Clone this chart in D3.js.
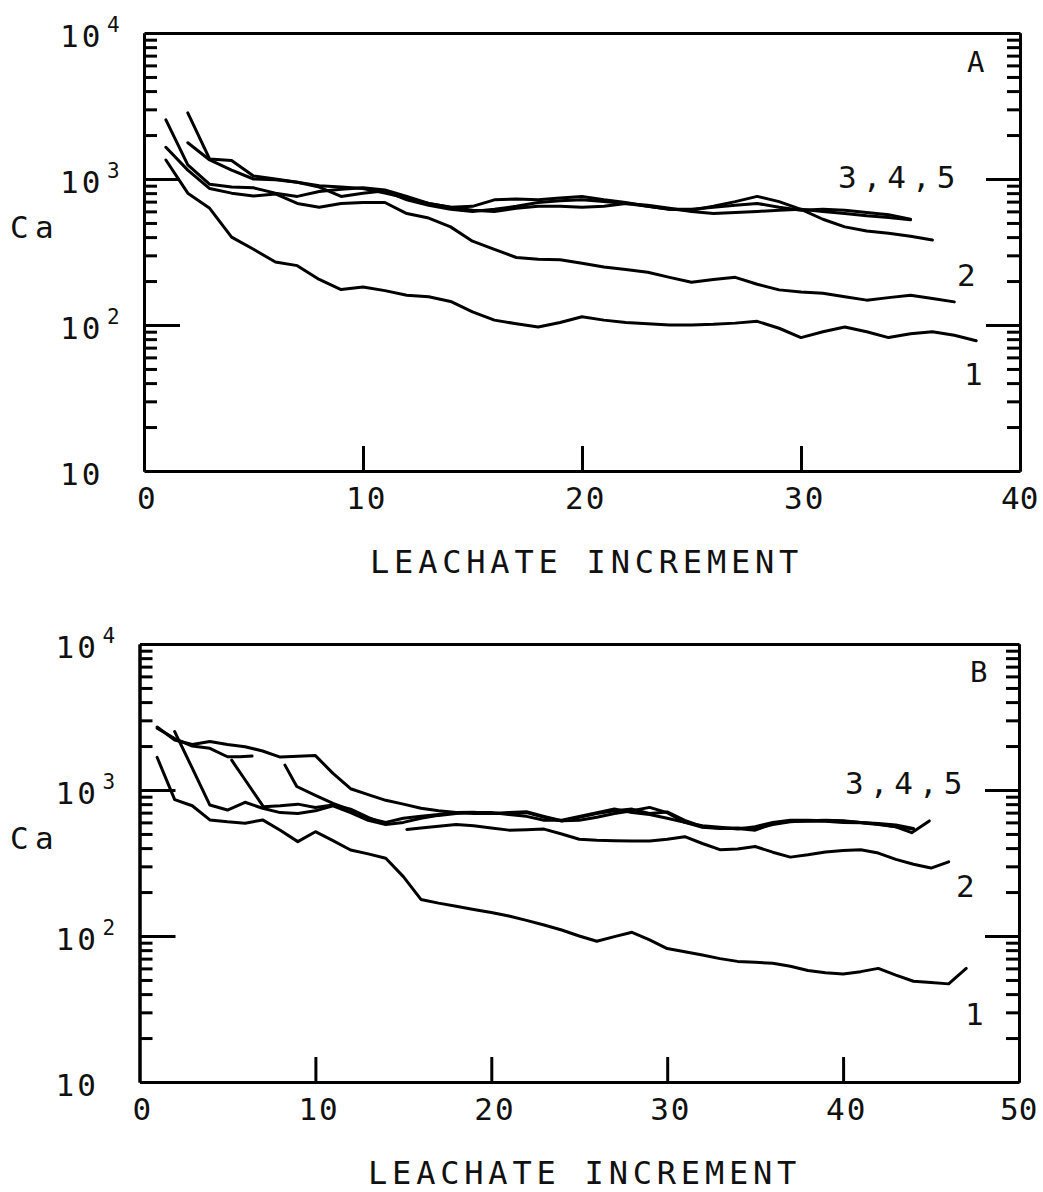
<!DOCTYPE html>
<html><head><meta charset="utf-8">
<script src="https://cdn.jsdelivr.net/npm/d3@7"></script>
<style>
body{margin:0;background:#fff}
text{font-family:"DejaVu Sans Mono",monospace;fill:#111}
</style>
</head><body>
<svg id="c" width="1043" height="1192"></svg>
<script>
// ---------- data ----------
const xTicksA = [0, 10, 20, 30, 40];
const xTicksB = [0, 10, 20, 30, 40, 50];
const yTickExps = [1, 2, 3, 4];
const seriesLabels = ["1", "2", "3,4,5"];
const panelLetters = ["A", "B"];
const xTitle = "LEACHATE INCREMENT";
const yTitleMain = "C";
const yTitleSub = "a";

// Panel A: Ca values at leachate increments start..end
const a1Start = 1;
const a1 = [1350,800,630,400,330,270,255,205,175,182,172,160,156,145,123,108,102,97,104,114,108,104,102,100,100,101,103,106,95,82,90,97,90,82,87,90,85,78];
const a2Start = 1;
const a2 = [1650,1150,860,800,765,790,680,640,680,690,690,580,540,470,375,330,290,282,280,265,250,240,230,212,196,205,212,190,174,168,165,156,148,154,160,152,144];
const a3Start = 1;
const a3 = [2540,1250,920,880,870,800,760,820,850,870,840,760,680,640,610,600,630,650,650,640,650,680,660,630,600,580,590,600,610,620,600,580,560,545,525];
const a4Start = 2;
const a4 = [2840,1370,1340,1050,1000,950,900,880,860,800,740,680,640,650,720,730,720,740,760,720,690,650,620,610,650,700,760,700,620,530,470,440,425,405,382];
const a5Start = 2;
const a5 = [1770,1350,1150,1000,990,950,880,760,800,830,720,660,620,600,620,650,690,710,720,700,680,650,620,620,640,660,680,640,610,620,610,590,570,530];

// Panel B: Ca values at leachate increments start..end
const b1Start = 1;
const b1 = [1675,860,780,624,605,592,624,530,443,518,450,388,365,341,255,178,168,160,152,145,137,128,119,110,100,92,99,106,94,82,78,74,70,67,66,65,62,58,56,55,57,60,54,49,48,47,60];
// Panel B: [increment, Ca] pairs (segments start between increments)
const b2 = [[15.2,537],[16,550],[17,565],[18,580],[19,570],[20,550],[21,531],[22,535],[23,540],[24,500],[25,460],[26,452],[27,450],[28,447],[29,447],[30,460],[31,479],[32,430],[33,390],[34,395],[35,410],[36,375],[37,347],[38,360],[39,376],[40,385],[41,390],[42,370],[43,335],[44,310],[45,292],[46,322]];
const b3 = [[1,2700],[2,2200],[3,2050],[4,2150],[5,2050],[6,1980],[7,1850],[8,1680],[9,1700],[10,1720],[11,1300],[12,1020],[13,930],[14,850],[15,800],[16,750],[17,720],[18,700],[19,690],[20,690],[21,690],[22,700],[23,650],[24,614],[25,650],[26,690],[27,720],[28,740],[29,690],[30,708],[31,620],[32,560],[33,550],[34,545],[35,531],[36,590],[37,610],[38,614],[39,610],[40,600],[41,596],[42,580],[43,560],[44,540]];
const b3b = [[1,2650],[2,2250],[3,2000],[4,1930],[5,1690],[5.7,1690],[6.4,1710]];
const b4 = [[2,2510],[3,1410],[4,789],[5,729],[6,824],[7,750],[8,700],[9,690],[10,720],[11,780],[12,700],[13,620],[14,580],[15,600],[16,640],[17,670],[18,690],[19,700],[20,700],[21,680],[22,660],[23,620],[24,620],[25,660],[26,700],[27,740],[28,700],[29,680],[30,640],[31,600],[32,570],[33,555],[34,540],[35,560],[36,600],[37,620],[38,620],[39,615],[40,610],[41,600],[42,585],[43,560],[43.9,510],[44.9,614]];
const b4b = [[5.24,1600],[6,1175],[7.04,769],[8,780],[9,800],[10,760],[11,790],[12,740],[13,650],[13.7,600]];
const b5 = [[8.27,1480],[8.94,1057],[10,920],[11,810],[12,730],[13,640],[14,600],[15,640],[16,660],[17,680],[18,700],[19,705],[20,690],[21,700],[22,710],[23,660],[24,615],[25,620],[26,650],[27,690],[28,720],[29,760],[30,700],[31,600],[32,555],[33,545],[34,550],[35,540],[36,580],[37,605],[38,615],[39,620],[40,615],[41,600],[42,590],[43,575],[44,545]];

// ---------- helpers ----------
const toPairs = (start, vals) => vals.map((v, i) => [start + i, v]);

const svg = d3.select("#c");

const panels = [
  { left: 144, right: 1020, top: 33, bottom: 471, xTicks: xTicksA, letter: panelLetters[0],
    series: [toPairs(a1Start, a1), toPairs(a2Start, a2), toPairs(a3Start, a3), toPairs(a4Start, a4), toPairs(a5Start, a5)],
    lab: { s345: [838, 188], s2: [957, 286], s1: [964, 385], letter: [967, 72] },
    titleX: 370 },
  { left: 139.5, right: 1019, top: 644, bottom: 1082, xTicks: xTicksB, letter: panelLetters[1],
    series: [toPairs(b1Start, b1), b2, b3, b3b, b4, b4b, b5],
    lab: { s345: [845, 794], s2: [956, 897], s1: [965, 1025], letter: [970, 682] },
    titleX: 368 }
];

panels.forEach(p => {
  const xMax = p.xTicks[p.xTicks.length - 1];
  const x = d3.scaleLinear().domain([0, xMax]).range([p.left, p.right]);
  const y = d3.scaleLog().domain([Math.pow(10, yTickExps[0]), Math.pow(10, yTickExps[yTickExps.length - 1])]).range([p.bottom, p.top]);

  const minor = [];
  for (let e = yTickExps[0]; e < yTickExps[yTickExps.length - 1]; e++)
    for (let k = 2; k <= 9; k++) minor.push(k * Math.pow(10, e));
  const major = yTickExps.slice(1, -1).map(e => Math.pow(10, e));
  const innerX = p.xTicks.slice(1, -1);

  const g = svg.append("g");
  const styleAxis = sel => {
    sel.selectAll("path.domain").attr("stroke", "#000").attr("stroke-width", 3);
    sel.selectAll(".tick line").attr("stroke", "#000").attr("stroke-width", 3);
    sel.selectAll(".tick text").remove();
  };

  // left axis (ticks pointing inward)
  g.append("g").attr("transform", `translate(${p.left},0)`)
    .call(d3.axisRight(y).tickValues(minor).tickSize(13).tickSizeOuter(0).tickFormat(""))
    .call(styleAxis);
  g.append("g").attr("transform", `translate(${p.left},0)`)
    .call(d3.axisRight(y).tickValues(major).tickSize(36).tickSizeOuter(0).tickFormat(""))
    .call(styleAxis);
  // right axis
  g.append("g").attr("transform", `translate(${p.right},0)`)
    .call(d3.axisLeft(y).tickValues(minor).tickSize(13).tickSizeOuter(0).tickFormat(""))
    .call(styleAxis);
  g.append("g").attr("transform", `translate(${p.right},0)`)
    .call(d3.axisLeft(y).tickValues(major).tickSize(34).tickSizeOuter(0).tickFormat(""))
    .call(styleAxis);
  // bottom axis
  g.append("g").attr("transform", `translate(0,${p.bottom})`)
    .call(d3.axisTop(x).tickValues(innerX).tickSize(25).tickSizeOuter(0).tickFormat(""))
    .call(styleAxis);
  // top axis
  g.append("g").attr("transform", `translate(0,${p.top})`)
    .call(d3.axisBottom(x).tickValues([]).tickSizeOuter(0))
    .call(styleAxis);

  // x tick labels (last one kept inside the page)
  const lastX = p.xTicks.length - 1;
  g.selectAll("text.xl").data(p.xTicks).join("text")
    .attr("class", "xl")
    .attr("x", (d, i) => i === lastX ? x(d) - 19 : x(d) - 17)
    .attr("y", p.bottom + 38)
    .attr("font-size", 31)
    .attr("letter-spacing", (d, i) => i === lastX ? 0 : 2)
    .attr("text-anchor", "start")
    .attr("dx", d => (String(d).length === 1 ? 10 : 0))
    .text(d => d);

  // y tick labels 10^n
  yTickExps.forEach(e => {
    const yy = y(Math.pow(10, e));
    g.append("text").attr("x", p.left - 84).attr("y", yy + 14)
      .attr("font-size", 31).attr("letter-spacing", 3).text("10");
    if (e > 1) {
      g.append("text").attr("x", p.left - 37).attr("y", yy - 1)
        .attr("font-size", 21).text(e);
    }
  });

  // y title "Ca"
  const ty = y(1000) + 59;
  g.append("text").attr("x", 10).attr("y", ty).attr("font-size", 31).text(yTitleMain);
  g.append("text").attr("x", 35).attr("y", ty).attr("font-size", 31).text(yTitleSub);

  // x title
  g.append("text").attr("x", p.titleX).attr("y", p.bottom + 102)
    .attr("font-size", 32).attr("letter-spacing", 4.8).text(xTitle);

  // series lines
  const line = d3.line().x(d => x(d[0])).y(d => y(d[1]));
  g.selectAll("path.s").data(p.series).join("path")
    .attr("class", "s")
    .attr("d", line)
    .attr("fill", "none")
    .attr("stroke", "#000")
    .attr("stroke-width", 3)
    .attr("stroke-linejoin", "round")
    .attr("stroke-linecap", "round");

  // labels
  g.append("text").attr("x", p.lab.s345[0]).attr("y", p.lab.s345[1])
    .attr("font-size", 31).attr("letter-spacing", 6).text(seriesLabels[2]);
  g.append("text").attr("x", p.lab.s2[0]).attr("y", p.lab.s2[1])
    .attr("font-size", 31).text(seriesLabels[1]);
  g.append("text").attr("x", p.lab.s1[0]).attr("y", p.lab.s1[1])
    .attr("font-size", 31).text(seriesLabels[0]);
  g.append("text").attr("x", p.lab.letter[0]).attr("y", p.lab.letter[1])
    .attr("font-size", 29).text(p.letter);
});
</script>
</body></html>
